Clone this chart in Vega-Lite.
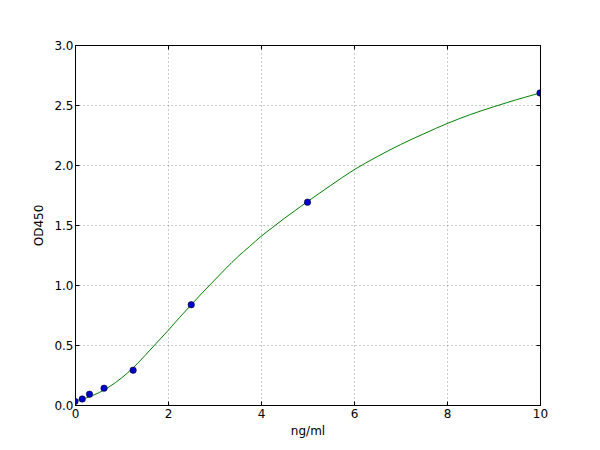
{
  "$schema": "https://vega.github.io/schema/vega-lite/v6.json",
  "width": 465,
  "height": 360,
  "autosize": "none",
  "padding": {"left": 75, "top": 45, "right": 60, "bottom": 45},
  "background": "white",
  "config": {
    "font": "DejaVu Sans",
    "view": {"stroke": "#000000", "strokeWidth": 1},
    "axis": {
      "domainColor": "#000000",
      "tickColor": "#000000",
      "tickSize": -4,
      "labelColor": "#000000",
      "labelFontSize": 12,
      "labelFont": "DejaVu Sans",
      "labelFlush": false,
      "labelPadding": 7,
      "titleFont": "DejaVu Sans",
      "titleFontSize": 12,
      "titleFontWeight": "normal",
      "titleColor": "#000000",
      "gridColor": "#000000",
      "gridDash": [1, 3],
      "gridOpacity": 0.7,
      "gridWidth": 0.6
    }
  },
  "datasets": {
    "points": [
      {"conc": 0, "od": 0.03},
      {"conc": 0.156, "od": 0.05},
      {"conc": 0.312, "od": 0.09},
      {"conc": 0.625, "od": 0.14},
      {"conc": 1.25, "od": 0.29},
      {"conc": 2.5, "od": 0.836},
      {"conc": 5, "od": 1.69},
      {"conc": 10, "od": 2.6}
    ],
    "curve": [
      {"conc": 0, "od": 0.035},
      {"conc": 0.25, "od": 0.06},
      {"conc": 0.5, "od": 0.1},
      {"conc": 0.75, "od": 0.155},
      {"conc": 1.0, "od": 0.225},
      {"conc": 1.25, "od": 0.31},
      {"conc": 1.5, "od": 0.41},
      {"conc": 1.75, "od": 0.515},
      {"conc": 2.0, "od": 0.62},
      {"conc": 2.25, "od": 0.73},
      {"conc": 2.5, "od": 0.835},
      {"conc": 2.75, "od": 0.94},
      {"conc": 3.0, "od": 1.04},
      {"conc": 3.25, "od": 1.14},
      {"conc": 3.5, "od": 1.235},
      {"conc": 3.75, "od": 1.32},
      {"conc": 4.0, "od": 1.405},
      {"conc": 4.25, "od": 1.48},
      {"conc": 4.5, "od": 1.555},
      {"conc": 4.75, "od": 1.625},
      {"conc": 5.0, "od": 1.695},
      {"conc": 5.5, "od": 1.83},
      {"conc": 6.0, "od": 1.96},
      {"conc": 6.5, "od": 2.07},
      {"conc": 7.0, "od": 2.17},
      {"conc": 7.5, "od": 2.26},
      {"conc": 8.0, "od": 2.345},
      {"conc": 8.5, "od": 2.42},
      {"conc": 9.0, "od": 2.485},
      {"conc": 9.5, "od": 2.545},
      {"conc": 10.0, "od": 2.6}
    ]
  },
  "layer": [
    {
      "data": {"name": "curve"},
      "mark": {"type": "line", "color": "#008000", "strokeWidth": 1, "interpolate": "monotone", "clip": true},
      "encoding": {
        "x": {
          "field": "conc", "type": "quantitative", "title": "ng/ml",
          "scale": {"domain": [0, 10], "nice": false, "zero": false},
          "axis": {"values": [0, 2, 4, 6, 8, 10], "grid": true, "titlePadding": 6}
        },
        "y": {
          "field": "od", "type": "quantitative", "title": "OD450",
          "scale": {"domain": [0, 3], "nice": false},
          "axis": {"values": [0, 0.5, 1, 1.5, 2, 2.5, 3], "format": ".1f", "grid": true, "titlePadding": 8, "labelPadding": 6}
        }
      }
    },
    {
      "data": {"name": "points"},
      "mark": {"type": "point", "filled": true, "fill": "#0000cc", "stroke": "#000000", "strokeWidth": 0.5, "size": 42, "opacity": 1, "clip": true},
      "encoding": {
        "x": {
          "field": "conc", "type": "quantitative",
          "scale": {"domain": [0, 10], "nice": false, "zero": false},
          "axis": {"orient": "top", "values": [0, 2, 4, 6, 8, 10], "labels": false, "title": null, "grid": false}
        },
        "y": {
          "field": "od", "type": "quantitative",
          "scale": {"domain": [0, 3], "nice": false},
          "axis": {"orient": "right", "values": [0, 0.5, 1, 1.5, 2, 2.5, 3], "labels": false, "title": null, "grid": false}
        }
      }
    }
  ],
  "resolve": {"axis": {"x": "independent", "y": "independent"}}
}
